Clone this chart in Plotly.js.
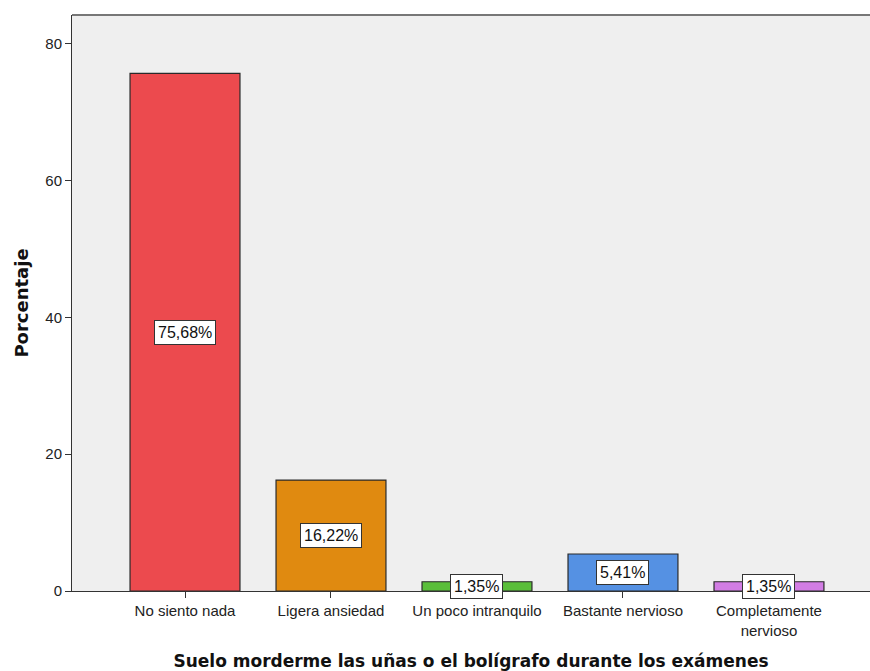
<!DOCTYPE html>
<html>
<head>
<meta charset="utf-8">
<script src="https://cdn.plot.ly/plotly-3.0.1.min.js"></script>
<style>html,body{margin:0;padding:0;background:#fff;}</style>
</head>
<body>
<div id="chart" style="width:870px;height:671px;"></div>
<script>
var categories = ["No siento nada", "Ligera ansiedad", "Un poco intranquilo", "Bastante nervioso", "Completamente<br>nervioso"];
var percentages = [75.68, 16.22, 1.35, 5.41, 1.35];
var labels = ["75,68%", "16,22%", "1,35%", "5,41%", "1,35%"];
var barColors = ["#EC4A4E", "#E08A10", "#5ABE3A", "#5591E3", "#D27DE4"];
var yTicks = [0, 20, 40, 60, 80];

var trace = {
  type: "bar",
  x: categories,
  y: percentages,
  width: 0.753,
  marker: {color: barColors, line: {color: "#2a2a2a", width: 1.2}},
  hoverinfo: "none"
};

var annotations = categories.map(function (c, i) {
  return {
    x: c, y: percentages[i] / 2, xref: "x", yref: "y",
    text: labels[i], showarrow: false,
    font: {family: "Liberation Sans, Arial, sans-serif", size: 16, color: "#111"},
    bgcolor: "#ffffff", bordercolor: "#333333", borderwidth: 1, borderpad: 3
  };
});

var layout = {
  width: 870, height: 671,
  margin: {l: 72, r: 0, t: 15, b: 80},
  paper_bgcolor: "#ffffff",
  plot_bgcolor: "#EFEFEF",
  showlegend: false,
  bargap: 0,
  font: {family: "Liberation Sans, Arial, sans-serif", size: 15, color: "#222"},
  xaxis: {
    type: "category",
    range: [-0.774, 4.692],
    showgrid: false, zeroline: false,
    showline: true, linecolor: "#333333", linewidth: 1,
    ticks: "outside", ticklen: 6, tickcolor: "#333333",
    tickfont: {family: "Liberation Sans, Arial, sans-serif", size: 15, color: "#222"},
    title: {text: "Suelo morderme las uñas o el bolígrafo durante los exámenes",
            font: {family: "DejaVu Sans, Verdana, sans-serif", size: 17, color: "#111", weight: "bold"},
            standoff: 20}
  },
  yaxis: {
    range: [0, 84.2],
    tickvals: yTicks, ticktext: yTicks.map(String),
    showgrid: false, zeroline: false,
    showline: true, linecolor: "#333333", linewidth: 1,
    ticks: "outside", ticklen: 6, tickcolor: "#333333",
    tickfont: {family: "Liberation Sans, Arial, sans-serif", size: 15, color: "#222"},
    title: {text: "Porcentaje",
            font: {family: "DejaVu Sans, Verdana, sans-serif", size: 18, color: "#111", weight: "bold"},
            standoff: 12}
  },
  shapes: [{type: "line", xref: "paper", yref: "paper", x0: 0, x1: 1, y0: 1, y1: 1,
            line: {color: "#777777", width: 2}}],
  annotations: annotations
};

Plotly.newPlot("chart", [trace], layout, {displayModeBar: false, staticPlot: true});
</script>
</body>
</html>
